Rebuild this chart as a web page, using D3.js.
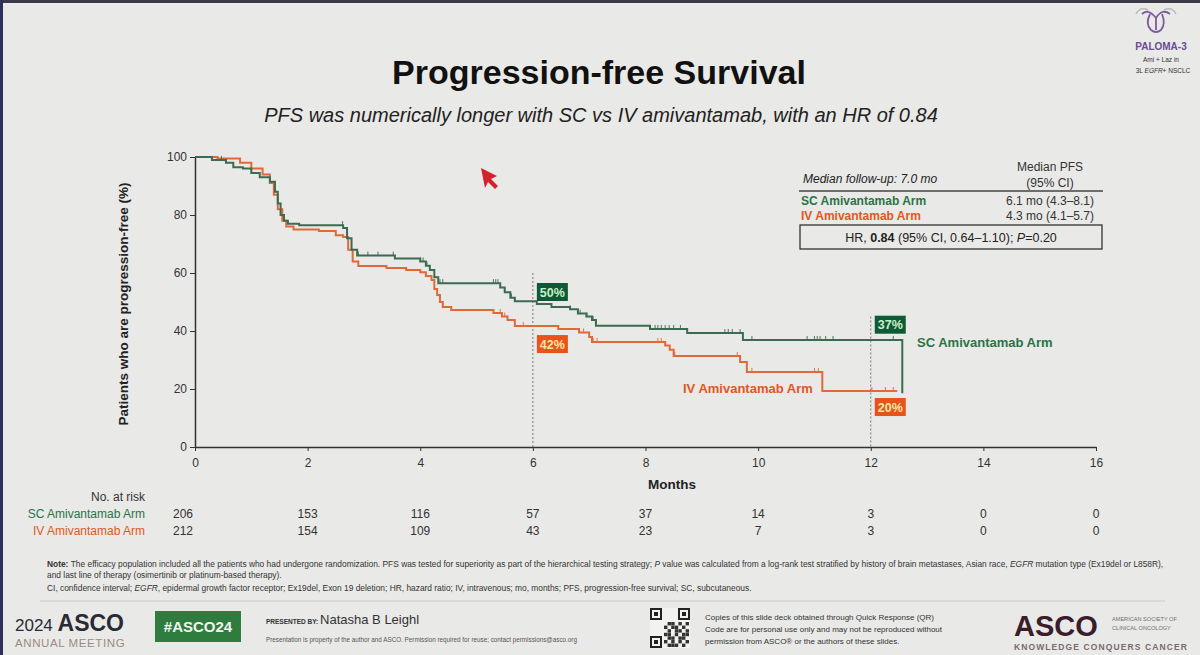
<!DOCTYPE html>
<html>
<head>
<meta charset="utf-8">
<script src="https://cdn.jsdelivr.net/npm/d3@7"></script>
<style>
  body { margin: 0; background: #e9e9e7; }
  svg text { font-family: "Liberation Sans", Arial, sans-serif; }
</style>
</head>
<body>
<div id="chart"></div>
<script>
// SC arm Kaplan-Meier steps (months, % progression-free)
var scMonths = [0, 0.3, 0.55, 0.68, 0.85, 1.0, 1.15, 1.33, 1.42, 1.47, 1.52, 1.58, 1.65, 1.85, 2.63, 2.7, 2.78, 2.88,
    3.55, 4.0, 4.1, 4.17, 4.25, 4.32, 5.42, 5.5, 5.6, 5.68, 6.07, 6.33, 6.66, 6.8, 6.95, 7.05, 7.12, 8.08, 8.74, 9.73, 12.56, 12.56];
var scPct = [100, 99, 98, 96.5, 96, 94.5, 93, 91.5, 88, 84, 80, 78, 77, 76.5, 75.5, 72, 68, 66,
    65, 64, 62.5, 61, 58.5, 56.5, 55, 53.4, 51.5, 50.3, 49.3, 48.3, 47.5, 46, 45, 43.8, 41.8, 40.7, 39.3, 36.9, 36.9, 18.5];

// IV arm Kaplan-Meier steps
var ivMonths = [0, 0.4, 0.8, 1.0, 1.2, 1.33, 1.4, 1.47, 1.55, 1.62, 1.75, 2.2, 2.5, 2.63, 2.72, 2.8, 2.9, 3.4, 3.75,
    4.0, 4.1, 4.2, 4.25, 4.3, 4.35, 4.4, 4.55, 5.3, 5.45, 5.55, 5.68, 6.45, 6.82, 7.0, 7.05, 8.35, 8.43, 8.5, 9.68, 9.8, 11.14, 12.47];
var ivPct = [100, 99.5, 98, 96, 94, 91, 87, 82, 78, 76, 75, 74.5, 73, 72.4, 68, 64, 62.4, 61.7, 61,
    60.3, 59, 57.6, 54.5, 52.4, 50, 48.3, 47.2, 46.2, 45, 43.8, 41.7, 40.7, 39.5, 37.9, 36.2, 35, 33.5, 31.4, 29.3, 25.9, 19.3, 19.3];

// censored observations (months)
var scCensor = [0.47, 2.62, 2.9, 3.07, 3.25, 3.52, 4.0, 4.05, 4.12, 4.35, 4.4, 5.3, 5.34, 5.38, 5.5, 5.62, 6.66, 6.84, 6.96, 7.07,
    8.17, 8.22, 8.28, 8.35, 8.42, 8.5, 8.62, 9.41, 9.47, 9.54, 9.68, 9.89, 10.87, 11.0, 11.05, 11.1, 11.2, 11.33, 12.4];
var ivCensor = [4.4, 5.42, 5.5, 5.55, 5.83, 6.9, 7.07, 7.14, 8.22, 8.28, 8.35, 8.52, 9.63, 9.89, 11.0, 11.07, 12.02, 12.26, 12.4];

// landmark estimates
var landmarkMonths = [6, 6, 12, 12];
var landmarkPct = [50, 41.7, 37, 19.3];
var landmarkLabels = ["50%", "42%", "37%", "20%"];
var landmarkArm = ["SC", "IV", "SC", "IV"];

// axis ticks
var xTicks = [0, 2, 4, 6, 8, 10, 12, 14, 16];
var yTicks = [0, 20, 40, 60, 80, 100];

// number at risk
var riskMonths = [0, 2, 4, 6, 8, 10, 12, 14, 16];
var scRisk = [206, 153, 116, 57, 37, 14, 3, 0, 0];
var ivRisk = [212, 154, 109, 43, 23, 7, 3, 0, 0];

var green = "#3c6b52", orange = "#e0693b";
var greenText = "#2a7446", orangeText = "#e2561f";

var width = 1200, height = 655;
var svg = d3.select("#chart").append("svg")
    .attr("width", width)
    .attr("height", height);

svg.append("rect").attr("width", width).attr("height", height).attr("fill", "#e9e9e7");
// photo edges of the slide
svg.append("rect").attr("width", width).attr("height", 3).attr("fill", "#3a3a48");
svg.append("rect").attr("width", 3).attr("height", height).attr("fill", "#2c2f5a");

var xScale = d3.scaleLinear().domain([0, 16]).range([195, 1096]);
var yScale = d3.scaleLinear().domain([0, 100]).range([447, 157]);

// Title
svg.append("text").attr("x", 599).attr("y", 84).attr("text-anchor", "middle")
    .style("font-size", "34px").style("font-weight", "bold").attr("fill", "#111")
    .text("Progression-free Survival");
svg.append("text").attr("x", 601).attr("y", 122).attr("text-anchor", "middle")
    .style("font-size", "20px").style("font-style", "italic").attr("fill", "#222")
    .text("PFS was numerically longer with SC vs IV amivantamab, with an HR of 0.84");

// Axes
var xAxis = d3.axisBottom(xScale).tickValues(xTicks).tickSize(4).tickSizeOuter(0);
var yAxis = d3.axisLeft(yScale).tickValues(yTicks).tickSize(5).tickSizeOuter(0);

var gx = svg.append("g").attr("transform", "translate(0," + yScale(0) + ")").call(xAxis);
gx.select(".domain").attr("stroke", "#333").attr("stroke-width", 1.5);
gx.selectAll(".tick line").attr("stroke", "#333");
gx.selectAll("text").style("font-size", "12px").attr("fill", "#333").attr("dy", "1.1em");

var gy = svg.append("g").attr("transform", "translate(" + xScale(0) + ",0)").call(yAxis);
gy.select(".domain").attr("stroke", "#333").attr("stroke-width", 1.5);
gy.selectAll(".tick line").attr("stroke", "#333");
gy.selectAll("text").style("font-size", "12px").attr("fill", "#333");

svg.append("text").attr("transform", "translate(128,304) rotate(-90)").attr("text-anchor", "middle")
    .style("font-size", "13.5px").style("font-weight", "bold").attr("fill", "#222")
    .text("Patients who are progression-free (%)");
svg.append("text").attr("x", 672).attr("y", 489).attr("text-anchor", "middle")
    .style("font-size", "13.5px").style("font-weight", "bold").attr("fill", "#222")
    .text("Months");

// landmark dashed lines
var refTops = {6: 60, 12: 45};
[6, 12].forEach(function (m) {
    svg.append("line")
        .attr("x1", xScale(m)).attr("x2", xScale(m))
        .attr("y1", yScale(refTops[m])).attr("y2", yScale(0))
        .attr("stroke", "#777").attr("stroke-width", 1).attr("stroke-dasharray", "2,2");
});

// curves
function toPoints(months, pct) {
    return months.map(function (m, i) { return {m: m, p: pct[i]}; });
}
var kmLine = d3.line()
    .x(function (d) { return xScale(d.m); })
    .y(function (d) { return yScale(d.p); })
    .curve(d3.curveStepAfter);

function survAt(months, pct, t) {
    var v = pct[0];
    for (var i = 0; i < months.length; i++) {
        if (months[i] <= t) v = pct[i];
    }
    return v;
}

var arms = [
    {name: "IV", months: ivMonths, pct: ivPct, censor: ivCensor, color: orange},
    {name: "SC", months: scMonths, pct: scPct, censor: scCensor, color: green}
];

arms.forEach(function (arm) {
    svg.append("path")
        .datum(toPoints(arm.months, arm.pct))
        .attr("d", kmLine)
        .attr("fill", "none")
        .attr("stroke", arm.color)
        .attr("stroke-width", 2);

    svg.selectAll(".censor-" + arm.name)
        .data(arm.censor)
        .enter()
        .append("line")
        .attr("class", "censor-" + arm.name)
        .attr("x1", function (d) { return xScale(d); })
        .attr("x2", function (d) { return xScale(d); })
        .attr("y1", function (d) { return yScale(survAt(arm.months, arm.pct, d)) - 4; })
        .attr("y2", function (d) { return yScale(survAt(arm.months, arm.pct, d)); })
        .attr("stroke", arm.color)
        .attr("stroke-width", 0.9);
});

// landmark boxes
var boxOffset = [-10, 18, -15, 16];
landmarkLabels.forEach(function (lab, i) {
    var cx = xScale(landmarkMonths[i]) + 4;
    var cy = yScale(landmarkPct[i]) + boxOffset[i];
    var isSC = landmarkArm[i] === "SC";
    svg.append("rect")
        .attr("x", cx).attr("y", cy - 9)
        .attr("width", 31).attr("height", 18)
        .attr("fill", isSC ? "#0f5a36" : "#e8521b");
    svg.append("text")
        .attr("x", cx + 15.5).attr("y", cy + 4.5)
        .attr("text-anchor", "middle")
        .style("font-size", "12.5px").style("font-weight", "bold")
        .attr("fill", isSC ? "#c8f0c8" : "#ffe6a6")
        .text(lab);
});

// arm labels
svg.append("text").attr("x", 917).attr("y", 347)
    .style("font-size", "13px").style("font-weight", "bold").attr("fill", greenText)
    .text("SC Amivantamab Arm");
svg.append("text").attr("x", 683).attr("y", 393)
    .style("font-size", "13px").style("font-weight", "bold").attr("fill", orangeText)
    .text("IV Amivantamab Arm");

// summary table
var tb = svg.append("g");
tb.append("text").attr("x", 803).attr("y", 183)
    .style("font-size", "12px").style("font-style", "italic").attr("fill", "#222")
    .text("Median follow-up: 7.0 mo");
tb.append("text").attr("x", 1050).attr("y", 171).attr("text-anchor", "middle")
    .style("font-size", "12px").attr("fill", "#333").text("Median PFS");
tb.append("text").attr("x", 1050).attr("y", 187).attr("text-anchor", "middle")
    .style("font-size", "12px").attr("fill", "#333").text("(95% CI)");
tb.append("line").attr("x1", 799).attr("x2", 1103).attr("y1", 191).attr("y2", 191)
    .attr("stroke", "#444").attr("stroke-width", 1.3);
tb.append("text").attr("x", 801).attr("y", 205)
    .style("font-size", "12px").style("font-weight", "bold").attr("fill", greenText)
    .text("SC Amivantamab Arm");
tb.append("text").attr("x", 1050).attr("y", 205).attr("text-anchor", "middle")
    .style("font-size", "12px").attr("fill", "#333").text("6.1 mo (4.3\u20138.1)");
tb.append("text").attr("x", 801).attr("y", 220)
    .style("font-size", "12px").style("font-weight", "bold").attr("fill", orangeText)
    .text("IV Amivantamab Arm");
tb.append("text").attr("x", 1050).attr("y", 220).attr("text-anchor", "middle")
    .style("font-size", "12px").attr("fill", "#333").text("4.3 mo (4.1\u20135.7)");
tb.append("rect").attr("x", 800).attr("y", 225).attr("width", 302).attr("height", 24)
    .attr("fill", "none").attr("stroke", "#333").attr("stroke-width", 1.3);
var hr = tb.append("text").attr("x", 951).attr("y", 242).attr("text-anchor", "middle")
    .style("font-size", "12.5px").attr("fill", "#222");
hr.append("tspan").text("HR, ");
hr.append("tspan").style("font-weight", "bold").text("0.84");
hr.append("tspan").text(" (95% CI, 0.64\u20131.10); ");
hr.append("tspan").style("font-style", "italic").text("P");
hr.append("tspan").text("=0.20");

// number at risk table
svg.append("text").attr("x", 145).attr("y", 501).attr("text-anchor", "end")
    .style("font-size", "12px").attr("fill", "#333").text("No. at risk");
svg.append("text").attr("x", 145).attr("y", 518).attr("text-anchor", "end")
    .style("font-size", "12px").attr("fill", greenText).text("SC Amivantamab Arm");
svg.append("text").attr("x", 145).attr("y", 535).attr("text-anchor", "end")
    .style("font-size", "12px").attr("fill", orangeText).text("IV Amivantamab Arm");

svg.selectAll(".risk-sc").data(scRisk).enter().append("text")
    .attr("class", "risk-sc")
    .attr("x", function (d, i) { return xScale(riskMonths[i]) - (i === 0 ? 12 : 0); })
    .attr("y", 518).attr("text-anchor", "middle")
    .style("font-size", "12px").attr("fill", "#333")
    .text(function (d) { return d; });
svg.selectAll(".risk-iv").data(ivRisk).enter().append("text")
    .attr("class", "risk-iv")
    .attr("x", function (d, i) { return xScale(riskMonths[i]) - (i === 0 ? 12 : 0); })
    .attr("y", 535).attr("text-anchor", "middle")
    .style("font-size", "12px").attr("fill", "#333")
    .text(function (d) { return d; });

// footnotes
var fn = svg.append("g").style("font-size", "8.4px").attr("fill", "#333");
var l1 = fn.append("text").attr("x", 47).attr("y", 567);
l1.append("tspan").style("font-weight", "bold").text("Note: ");
l1.append("tspan").text("The efficacy population included all the patients who had undergone randomization. PFS was tested for superiority as part of the hierarchical testing strategy; ");
l1.append("tspan").style("font-style", "italic").text("P");
l1.append("tspan").text(" value was calculated from a log-rank test stratified by history of brain metastases, Asian race, ");
l1.append("tspan").style("font-style", "italic").text("EGFR");
l1.append("tspan").text(" mutation type (Ex19del or L858R),");
fn.append("text").attr("x", 47).attr("y", 578).text("and last line of therapy (osimertinib or platinum-based therapy).");
var l3 = fn.append("text").attr("x", 47).attr("y", 591);
l3.append("tspan").text("CI, confidence interval; ");
l3.append("tspan").style("font-style", "italic").text("EGFR");
l3.append("tspan").text(", epidermal growth factor receptor; Ex19del, Exon 19 deletion; HR, hazard ratio; IV, intravenous; mo, months; PFS, progression-free survival; SC, subcutaneous.");

svg.append("line").attr("x1", 40).attr("x2", 1165).attr("y1", 601).attr("y2", 601)
    .attr("stroke", "#c9c9c6").attr("stroke-width", 1);

// footer: ASCO meeting mark
var ft = svg.append("g");
var asco = ft.append("text").attr("x", 15).attr("y", 631).attr("fill", "#2a2a35");
asco.append("tspan").style("font-size", "17px").text("2024 ");
asco.append("tspan").style("font-size", "23px").style("font-weight", "bold").text("ASCO");
ft.append("text").attr("x", 15).attr("y", 647).style("font-size", "11.5px").style("letter-spacing", "0.6px")
    .attr("fill", "#9a8a80").text("ANNUAL MEETING");
ft.append("rect").attr("x", 155).attr("y", 611).attr("width", 86).attr("height", 31).attr("fill", "#2f7d3e");
ft.append("text").attr("x", 198).attr("y", 632).attr("text-anchor", "middle")
    .style("font-size", "15px").style("font-weight", "bold").attr("fill", "#f2f2f2").text("#ASCO24");
var pb = ft.append("text").attr("x", 266).attr("y", 624).attr("fill", "#333");
pb.append("tspan").style("font-size", "6.5px").style("font-weight", "bold").text("PRESENTED BY: ");
pb.append("tspan").style("font-size", "13px").text(" Natasha B Leighl");
ft.append("text").attr("x", 266).attr("y", 642).style("font-size", "6.3px").attr("fill", "#555")
    .text("Presentation is property of the author and ASCO. Permission required for reuse; contact permissions@asco.org");

// QR code sketch
var qr = ft.append("g").attr("transform", "translate(650,608)");
qr.append("rect").attr("width", 40).attr("height", 40).attr("fill", "#f2f2f0");
[[0, 0], [28, 0], [0, 28]].forEach(function (p) {
    qr.append("rect").attr("x", p[0] + 1).attr("y", p[1] + 1).attr("width", 10).attr("height", 10)
        .attr("fill", "none").attr("stroke", "#222").attr("stroke-width", 2);
    qr.append("rect").attr("x", p[0] + 4).attr("y", p[1] + 4).attr("width", 4).attr("height", 4).attr("fill", "#222");
});
var qrBits = ["0110101", "1011010", "0101101", "1101011", "0110110", "1010101", "0111010"];
qrBits.forEach(function (row, r) {
    row.split("").forEach(function (b, c) {
        if (b === "1") qr.append("rect").attr("x", 14 + c * 3.6).attr("y", 14 + r * 3.6)
            .attr("width", 3.4).attr("height", 3.4).attr("fill", "#333");
    });
});
ft.append("g").style("font-size", "8px").attr("fill", "#333").selectAll("text")
    .data(["Copies of this slide deck obtained through Quick Response (QR)",
           "Code are for personal use only and may not be reproduced without",
           "permission from ASCO\u00ae or the authors of these slides."])
    .enter().append("text")
    .attr("x", 705).attr("y", function (d, i) { return 620 + i * 12; })
    .text(function (d) { return d; });

ft.append("text").attr("x", 1014).attr("y", 636).style("font-size", "29px").style("font-weight", "bold")
    .attr("fill", "#3a1d2c").text("ASCO");
ft.append("text").attr("x", 1112).attr("y", 621).style("font-size", "5.6px").attr("fill", "#7a6a70")
    .text("AMERICAN SOCIETY OF");
ft.append("text").attr("x", 1112).attr("y", 630).style("font-size", "5.6px").attr("fill", "#7a6a70")
    .text("CLINICAL ONCOLOGY");
ft.append("text").attr("x", 1014).attr("y", 650).style("font-size", "8.5px").style("font-weight", "bold")
    .style("letter-spacing", "1.1px").attr("fill", "#7a6a70").text("KNOWLEDGE CONQUERS CANCER");

// PALOMA-3 mark
var pal = svg.append("g");
pal.append("path")
    .attr("d", "M1142,14 Q1148,8 1156,18 Q1162,8 1170,14 M1150,14 Q1145,24 1151,30 Q1156,34 1161,30 Q1166,24 1162,14 M1156,18 L1156,30")
    .attr("fill", "none").attr("stroke", "#7b5a9e").attr("stroke-width", 1.8);
pal.append("path")
    .attr("d", "M1136,14 Q1140,6 1148,10 M1176,14 Q1172,6 1164,10")
    .attr("fill", "none").attr("stroke", "#bbb").attr("stroke-width", 1.5);
pal.append("text").attr("x", 1161).attr("y", 50).attr("text-anchor", "middle")
    .style("font-size", "10px").style("font-weight", "bold").attr("fill", "#6b4c94").text("PALOMA-3");
pal.append("text").attr("x", 1161).attr("y", 62).attr("text-anchor", "middle")
    .style("font-size", "6.5px").attr("fill", "#333").text("Ami + Laz in");
var pl = pal.append("text").attr("x", 1163).attr("y", 73).attr("text-anchor", "middle")
    .style("font-size", "6.5px").attr("fill", "#333");
pl.append("tspan").text("3L ");
pl.append("tspan").style("font-style", "italic").text("EGFR");
pl.append("tspan").text("+ NSCLC");

// laser pointer arrow
svg.append("path")
    .attr("d", "M481,168 L497,176 L491,179 L498,186 L495,189 L488,182 L485,188 Z")
    .attr("fill", "#d3222c");
</script>
</body>
</html>
